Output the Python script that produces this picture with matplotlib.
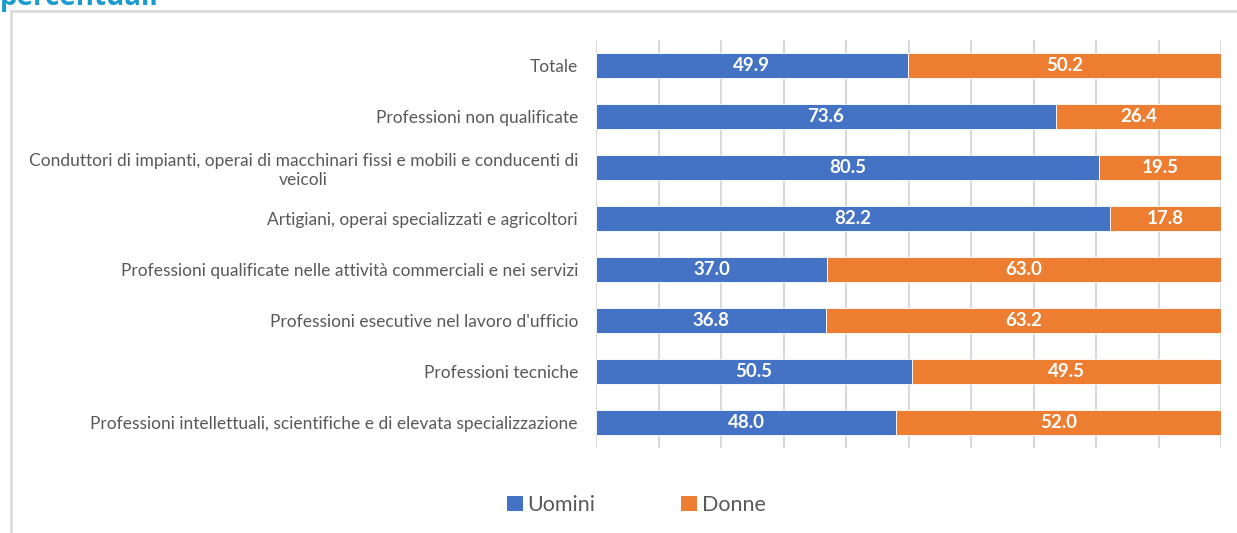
import matplotlib
matplotlib.use("Agg")
import matplotlib.pyplot as plt
from matplotlib.lines import Line2D
from matplotlib.patches import Patch

categories = [
    "Totale",
    "Professioni non qualificate",
    "Conduttori di impianti, operai di macchinari fissi e mobili e conducenti di\nveicoli",
    "Artigiani, operai specializzati e agricoltori",
    "Professioni qualificate nelle attività commerciali e nei servizi",
    "Professioni esecutive nel lavoro d'ufficio",
    "Professioni tecniche",
    "Professioni intellettuali, scientifiche e di elevata specializzazione",
]
uomini = [49.9, 73.6, 80.5, 82.2, 37.0, 36.8, 50.5, 48.0]
donne = [50.2, 26.4, 19.5, 17.8, 63.0, 63.2, 49.5, 52.0]
series_names = ["Uomini", "Donne"]

BLUE = "#4472C4"
ORANGE = "#ED7D31"
TXT = "#595959"
FONT = ["Lato", "DejaVu Sans"]

plt.rcParams["font.family"] = FONT

fig = plt.figure(figsize=(12.37, 5.33), dpi=100)
ax = fig.add_axes([596 / 1237, 1 - 448 / 533, (1221 - 596) / 1237, 408 / 533])

y = list(range(len(categories)))
h = 0.5
ax.barh(y, uomini, height=h, color=BLUE, edgecolor="white", linewidth=0.6, zorder=3)
ax.barh(y, donne, left=uomini, height=h, color=ORANGE, edgecolor="white", linewidth=0.6, zorder=3)

for yi, u, d in zip(y, uomini, donne):
    ax.text(u / 2, yi, f"{u:.1f}", ha="center", va="center", color="white",
            fontsize=13.5, fontweight="bold", zorder=4)
    ax.text(u + min(d, 100 - u) / 2, yi, f"{d:.1f}", ha="center", va="center", color="white",
            fontsize=13.5, fontweight="bold", zorder=4)

ax.set_xlim(0, 100)
ax.set_ylim(len(categories) - 0.5, -0.5)
ax.set_xticks(range(0, 101, 10))
ax.set_xticklabels([])
ax.tick_params(axis="x", length=0)
ax.grid(axis="x", color="#d9d9d9", linewidth=1.5, zorder=0)
ax.set_yticks(y)
ax.set_yticklabels(categories, fontsize=12.5, color=TXT, multialignment="center")
ax.tick_params(axis="y", length=0, pad=13)
for s in ax.spines.values():
    s.set_visible(False)

handles = [Patch(facecolor=BLUE, label=series_names[0]), Patch(facecolor=ORANGE, label=series_names[1])]
leg = fig.legend(handles=handles, loc="center", bbox_to_anchor=(636 / 1237, 1 - 505 / 533),
                 ncol=2, frameon=False, fontsize=15.5, handlelength=0.75, handleheight=0.75,
                 handletextpad=0.2, columnspacing=4.0)
for t in leg.get_texts():
    t.set_color(TXT)

# frame around chart area
fig.add_artist(Line2D([11 / 1237, 1], [1 - 11 / 533, 1 - 11 / 533], color="#d9d9d9", linewidth=1.8,
                      transform=fig.transFigure))
fig.add_artist(Line2D([11 / 1237, 11 / 1237], [1 - 11 / 533, 0], color="#d9d9d9", linewidth=1.8,
                      transform=fig.transFigure))

# partially visible title (cut off at the top edge, as in the reference)
fig.text(0, 1 - 5 / 533, "percentuali", color="#1A9BD0", fontsize=20, fontweight="bold",
         ha="left", va="baseline", family=["Open Sans", "DejaVu Sans"])

fig.savefig("out.png", dpi=100)
